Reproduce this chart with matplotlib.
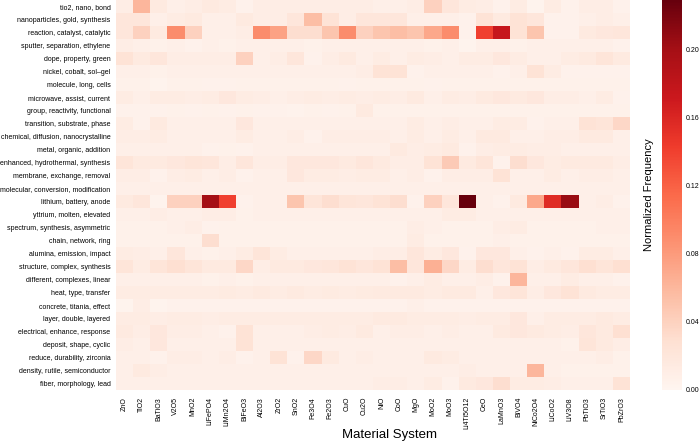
import numpy as np
import matplotlib
matplotlib.use("Agg")
import matplotlib.pyplot as plt

materials = ["ZnO", "TiO2", "BaTiO3", "V2O5", "MnO2", "LiFePO4", "LiMn2O4", "BiFeO3",
             "Al2O3", "ZrO2", "SnO2", "Fe3O4", "Fe2O3", "CuO", "Cu2O", "NiO", "CoO", "MgO",
             "MoO2", "MoO3", "Li4Ti5O12", "CeO", "LaMnO3", "BiVO4", "NiCo2O4", "LiCoO2",
             "LiV3O8", "PbTiO3", "SrTiO3", "PbZrO3"]

topics = ["tio2, nano, bond", "nanoparticles, gold, synthesis", "reaction, catalyst, catalytic",
          "sputter, separation, ethylene", "dope, property, green", "nickel, cobalt, sol\u2013gel",
          "molecule, long, cells", "microwave, assist, current", "group, reactivity, functional",
          "transition, substrate, phase", "chemical, diffusion, nanocrystalline",
          "metal, organic, addition", "enhanced, hydrothermal, synthesis",
          "membrane, exchange, removal", "molecular, conversion, modification",
          "lithium, battery, anode", "yttrium, molten, elevated",
          "spectrum, synthesis, asymmetric", "chain, network, ring",
          "alumina, emission, impact", "structure, complex, synthesis",
          "different, complexes, linear", "heat, type, transfer", "concrete, titania, effect",
          "layer, double, layered", "electrical, enhance, response", "deposit, shape, cyclic",
          "reduce, durability, zirconia", "density, rutile, semiconductor",
          "fiber, morphology, lead"]

r00 = [0.010, 0.060, 0.015, 0.008, 0.010, 0.015, 0.012, 0.005, 0.010, 0.010, 0.010, 0.010, 0.010, 0.010, 0.010,
       0.008, 0.008, 0.010, 0.040, 0.020, 0.012, 0.010, 0.005, 0.012, 0.003, 0.012, 0.005, 0.010, 0.010, 0.005]
r01 = [0.020, 0.020, 0.008, 0.012, 0.015, 0.008, 0.008, 0.015, 0.010, 0.010, 0.020, 0.055, 0.025, 0.010, 0.020,
       0.020, 0.020, 0.008, 0.008, 0.008, 0.005, 0.025, 0.015, 0.025, 0.020, 0.005, 0.005, 0.008, 0.010, 0.008]
r02 = [0.020, 0.040, 0.015, 0.090, 0.040, 0.008, 0.008, 0.010, 0.090, 0.075, 0.030, 0.030, 0.050, 0.090, 0.040,
       0.050, 0.055, 0.050, 0.070, 0.090, 0.005, 0.140, 0.175, 0.025, 0.050, 0.005, 0.005, 0.015, 0.018, 0.020]
r03 = [0.010, 0.008, 0.006, 0.008, 0.005, 0.008, 0.006, 0.008, 0.008, 0.008, 0.008, 0.006, 0.008, 0.008, 0.008,
       0.008, 0.008, 0.008, 0.006, 0.008, 0.003, 0.008, 0.008, 0.006, 0.008, 0.008, 0.008, 0.008, 0.008, 0.005]
r04 = [0.025, 0.015, 0.020, 0.010, 0.010, 0.010, 0.010, 0.040, 0.008, 0.010, 0.020, 0.005, 0.010, 0.015, 0.008,
       0.012, 0.008, 0.012, 0.010, 0.008, 0.012, 0.012, 0.018, 0.012, 0.008, 0.008, 0.012, 0.015, 0.022, 0.015]
r05 = [0.008, 0.008, 0.006, 0.008, 0.008, 0.008, 0.008, 0.008, 0.008, 0.008, 0.008, 0.008, 0.008, 0.008, 0.010,
       0.025, 0.025, 0.005, 0.008, 0.008, 0.008, 0.008, 0.005, 0.008, 0.025, 0.012, 0.005, 0.005, 0.005, 0.005]
r06 = [0.006, 0.006, 0.003, 0.006, 0.006, 0.005, 0.005, 0.006, 0.006, 0.006, 0.006, 0.006, 0.006, 0.005, 0.006,
       0.006, 0.006, 0.006, 0.005, 0.006, 0.006, 0.006, 0.006, 0.006, 0.006, 0.006, 0.006, 0.006, 0.006, 0.006]
r07 = [0.012, 0.008, 0.012, 0.012, 0.010, 0.012, 0.018, 0.012, 0.010, 0.008, 0.010, 0.012, 0.010, 0.012, 0.010,
       0.012, 0.010, 0.015, 0.008, 0.012, 0.010, 0.015, 0.018, 0.015, 0.018, 0.010, 0.010, 0.008, 0.012, 0.005]
r08 = [0.005, 0.005, 0.005, 0.006, 0.005, 0.006, 0.005, 0.006, 0.005, 0.005, 0.004, 0.006, 0.005, 0.006, 0.015,
       0.006, 0.006, 0.006, 0.006, 0.006, 0.006, 0.006, 0.006, 0.006, 0.006, 0.006, 0.006, 0.006, 0.006, 0.006]
r09 = [0.012, 0.005, 0.015, 0.008, 0.008, 0.008, 0.008, 0.018, 0.008, 0.008, 0.008, 0.008, 0.008, 0.008, 0.008,
       0.008, 0.008, 0.012, 0.008, 0.010, 0.008, 0.008, 0.012, 0.012, 0.005, 0.008, 0.008, 0.025, 0.022, 0.035]
r10 = [0.010, 0.010, 0.012, 0.008, 0.008, 0.008, 0.008, 0.012, 0.008, 0.008, 0.010, 0.005, 0.010, 0.010, 0.010,
       0.010, 0.008, 0.012, 0.008, 0.012, 0.008, 0.015, 0.015, 0.008, 0.008, 0.010, 0.010, 0.015, 0.015, 0.008]
r11 = [0.008, 0.008, 0.008, 0.008, 0.008, 0.005, 0.006, 0.005, 0.008, 0.008, 0.008, 0.008, 0.008, 0.008, 0.008,
       0.008, 0.015, 0.010, 0.012, 0.015, 0.005, 0.010, 0.012, 0.012, 0.010, 0.010, 0.008, 0.008, 0.008, 0.008]
r12 = [0.022, 0.015, 0.015, 0.018, 0.022, 0.020, 0.010, 0.020, 0.010, 0.010, 0.018, 0.018, 0.018, 0.015, 0.020,
       0.015, 0.010, 0.010, 0.025, 0.045, 0.015, 0.022, 0.005, 0.030, 0.018, 0.012, 0.015, 0.015, 0.015, 0.010]
r13 = [0.010, 0.010, 0.005, 0.010, 0.012, 0.008, 0.010, 0.005, 0.008, 0.008, 0.018, 0.012, 0.012, 0.010, 0.012,
       0.012, 0.008, 0.010, 0.005, 0.010, 0.010, 0.010, 0.025, 0.008, 0.008, 0.012, 0.008, 0.010, 0.010, 0.008]
r14 = [0.008, 0.008, 0.008, 0.008, 0.008, 0.008, 0.008, 0.008, 0.008, 0.008, 0.008, 0.008, 0.008, 0.008, 0.008,
       0.008, 0.008, 0.008, 0.008, 0.008, 0.008, 0.008, 0.008, 0.008, 0.008, 0.008, 0.008, 0.008, 0.008, 0.008]
r15 = [0.015, 0.020, 0.003, 0.040, 0.040, 0.200, 0.140, 0.005, 0.008, 0.008, 0.050, 0.022, 0.030, 0.022, 0.020,
       0.025, 0.030, 0.005, 0.040, 0.020, 0.229, 0.008, 0.005, 0.015, 0.070, 0.155, 0.205, 0.008, 0.010, 0.005]
r16 = [0.008, 0.008, 0.010, 0.008, 0.008, 0.010, 0.010, 0.006, 0.008, 0.008, 0.008, 0.008, 0.008, 0.008, 0.008,
       0.008, 0.008, 0.008, 0.008, 0.012, 0.012, 0.008, 0.008, 0.008, 0.008, 0.008, 0.008, 0.008, 0.008, 0.008]
r17 = [0.006, 0.006, 0.006, 0.008, 0.010, 0.005, 0.006, 0.006, 0.006, 0.006, 0.006, 0.006, 0.006, 0.006, 0.006,
       0.006, 0.006, 0.010, 0.008, 0.006, 0.006, 0.006, 0.010, 0.012, 0.006, 0.006, 0.006, 0.006, 0.008, 0.008]
r18 = [0.006, 0.006, 0.006, 0.006, 0.006, 0.030, 0.006, 0.006, 0.006, 0.006, 0.006, 0.006, 0.006, 0.006, 0.006,
       0.006, 0.006, 0.012, 0.006, 0.006, 0.006, 0.006, 0.008, 0.006, 0.006, 0.006, 0.006, 0.006, 0.006, 0.006]
r19 = [0.012, 0.010, 0.008, 0.020, 0.008, 0.006, 0.008, 0.012, 0.022, 0.012, 0.008, 0.008, 0.008, 0.008, 0.008,
       0.010, 0.010, 0.020, 0.012, 0.018, 0.005, 0.018, 0.018, 0.008, 0.005, 0.008, 0.005, 0.012, 0.012, 0.008]
r20 = [0.022, 0.012, 0.022, 0.028, 0.022, 0.015, 0.015, 0.035, 0.010, 0.015, 0.015, 0.018, 0.020, 0.025, 0.020,
       0.025, 0.055, 0.020, 0.065, 0.035, 0.012, 0.030, 0.020, 0.025, 0.010, 0.015, 0.020, 0.028, 0.022, 0.028]
r21 = [0.008, 0.008, 0.008, 0.008, 0.008, 0.006, 0.008, 0.006, 0.008, 0.008, 0.008, 0.008, 0.008, 0.008, 0.008,
       0.008, 0.005, 0.008, 0.012, 0.008, 0.008, 0.010, 0.005, 0.060, 0.008, 0.008, 0.012, 0.008, 0.008, 0.005]
r22 = [0.012, 0.012, 0.012, 0.012, 0.012, 0.012, 0.014, 0.012, 0.015, 0.012, 0.015, 0.012, 0.014, 0.012, 0.014,
       0.015, 0.015, 0.015, 0.012, 0.015, 0.015, 0.008, 0.018, 0.022, 0.010, 0.018, 0.025, 0.015, 0.012, 0.012]
r23 = [0.003, 0.010, 0.003, 0.005, 0.005, 0.005, 0.005, 0.005, 0.005, 0.005, 0.005, 0.005, 0.005, 0.005, 0.005,
       0.005, 0.005, 0.008, 0.005, 0.005, 0.005, 0.005, 0.005, 0.005, 0.005, 0.005, 0.005, 0.005, 0.005, 0.005]
r24 = [0.012, 0.012, 0.010, 0.012, 0.012, 0.010, 0.012, 0.012, 0.012, 0.012, 0.012, 0.012, 0.012, 0.012, 0.012,
       0.015, 0.015, 0.012, 0.012, 0.012, 0.010, 0.012, 0.012, 0.018, 0.008, 0.012, 0.012, 0.012, 0.015, 0.012]
r25 = [0.015, 0.010, 0.018, 0.010, 0.010, 0.008, 0.005, 0.025, 0.008, 0.008, 0.008, 0.010, 0.012, 0.010, 0.015,
       0.008, 0.010, 0.010, 0.008, 0.010, 0.008, 0.008, 0.015, 0.018, 0.015, 0.012, 0.010, 0.020, 0.015, 0.028]
r26 = [0.010, 0.008, 0.018, 0.008, 0.008, 0.008, 0.008, 0.025, 0.008, 0.008, 0.008, 0.008, 0.008, 0.008, 0.008,
       0.008, 0.008, 0.008, 0.008, 0.008, 0.008, 0.008, 0.008, 0.008, 0.008, 0.008, 0.006, 0.022, 0.015, 0.010]
r27 = [0.008, 0.008, 0.005, 0.010, 0.010, 0.008, 0.010, 0.005, 0.008, 0.025, 0.005, 0.035, 0.015, 0.008, 0.010,
       0.008, 0.008, 0.008, 0.015, 0.012, 0.008, 0.008, 0.008, 0.008, 0.008, 0.008, 0.008, 0.008, 0.010, 0.006]
r28 = [0.008, 0.015, 0.010, 0.008, 0.008, 0.008, 0.008, 0.008, 0.008, 0.008, 0.008, 0.008, 0.008, 0.008, 0.008,
       0.008, 0.008, 0.008, 0.008, 0.008, 0.010, 0.008, 0.008, 0.008, 0.060, 0.008, 0.006, 0.006, 0.006, 0.006]
r29 = [0.008, 0.008, 0.008, 0.008, 0.008, 0.008, 0.008, 0.008, 0.008, 0.008, 0.008, 0.008, 0.008, 0.008, 0.008,
       0.010, 0.010, 0.008, 0.012, 0.005, 0.015, 0.018, 0.030, 0.012, 0.012, 0.010, 0.008, 0.008, 0.008, 0.025]

rows = [r00, r01, r02, r03, r04, r05, r06, r07, r08, r09, r10, r11, r12, r13, r14,
        r15, r16, r17, r18, r19, r20, r21, r22, r23, r24, r25, r26, r27, r28, r29]
data = np.array(rows)

plt.rcParams['font.family'] = ['Liberation Sans', 'DejaVu Sans']
fig = plt.figure(figsize=(7, 4.43), dpi=100)
ax = fig.add_axes([116/700, 1 - 390/443, 514/700, 390/443])
cax = fig.add_axes([662/700, 1 - 390/443, 20/700, 390/443])

im = ax.imshow(data, cmap='Reds', aspect='auto', vmin=0, vmax=data.max(),
               interpolation='nearest')
ax.set_xticks(np.arange(len(materials)))
ax.set_xticklabels(materials, rotation=90, fontsize=5)
ax.set_yticks(np.arange(len(topics)))
ax.set_yticklabels(topics, fontsize=5)
ax.tick_params(axis='x', length=0, pad=5)
ax.tick_params(axis='y', length=0, pad=4)
for s in ax.spines.values():
    s.set_visible(False)
ax.set_xlabel("Material System", fontsize=9.5, va='top')
ax.xaxis.set_label_coords(0.533, -0.101)

cb = fig.colorbar(im, cax=cax)
cb.set_ticks([0.0, 0.04, 0.08, 0.12, 0.16, 0.20])
cb.ax.set_yticklabels(["0.00", "0.04", "0.08", "0.12", "0.16", "0.20"])
cb.ax.tick_params(labelsize=5, length=0, pad=2.5)
cb.outline.set_visible(False)
cb.ax.yaxis.set_label_position('left')
cb.set_label("Normalized Frequency", fontsize=8, labelpad=6)

fig.savefig("out.png", dpi=100)
